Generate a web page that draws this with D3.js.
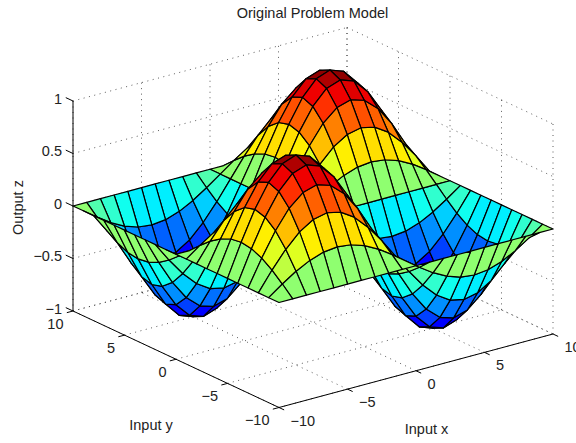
<!DOCTYPE html>
<html>
<head>
<meta charset="utf-8">
<style>
  html, body { margin: 0; padding: 0; background: #fff; }
  text { font-family: "Liberation Sans", Arial, sans-serif; fill: #222; }
</style>
<script src="https://cdn.jsdelivr.net/npm/d3@7"></script>
</head>
<body>
<div class="canvas"></div>
<script>
// tick labels and grid positions
const xTicks = [-10, -5, 0, 5, 10];
const yTicks = [-10, -5, 0, 5, 10];
const zTicks = [-1, -0.5, 0, 0.5, 1];
const xGrid = [-10,-9,-8,-7,-6,-5,-4,-3,-2,-1,0,1,2,3,4,5,6,7,8,9,10];
const yGrid = [-10,-9,-8,-7,-6,-5,-4,-3,-2,-1,0,1,2,3,4,5,6,7,8,9,10];

// surface heights, one row per y value
const zRows = [
  [0,0,0,0,0,0,0,0,0,0,0,0,0,0,0,0,0,0,0,0,0],
  [0,.095,.182,.25,.294,.309,.294,.25,.182,.095,0,-.095,-.182,-.25,-.294,-.309,-.294,-.25,-.182,-.095,0],
  [0,.182,.345,.476,.559,.588,.559,.476,.345,.182,0,-.182,-.345,-.476,-.559,-.588,-.559,-.476,-.345,-.182,0],
  [0,.25,.476,.655,.769,.809,.769,.655,.476,.25,0,-.25,-.476,-.655,-.769,-.809,-.769,-.655,-.476,-.25,0],
  [0,.294,.559,.769,.905,.951,.905,.769,.559,.294,0,-.294,-.559,-.769,-.905,-.951,-.905,-.769,-.559,-.294,0],
  [0,.309,.588,.809,.951,1,.951,.809,.588,.309,0,-.309,-.588,-.809,-.951,-1,-.951,-.809,-.588,-.309,0],
  [0,.294,.559,.769,.905,.951,.905,.769,.559,.294,0,-.294,-.559,-.769,-.905,-.951,-.905,-.769,-.559,-.294,0],
  [0,.25,.476,.655,.769,.809,.769,.655,.476,.25,0,-.25,-.476,-.655,-.769,-.809,-.769,-.655,-.476,-.25,0],
  [0,.182,.345,.476,.559,.588,.559,.476,.345,.182,0,-.182,-.345,-.476,-.559,-.588,-.559,-.476,-.345,-.182,0],
  [0,.095,.182,.25,.294,.309,.294,.25,.182,.095,0,-.095,-.182,-.25,-.294,-.309,-.294,-.25,-.182,-.095,0],
  [0,0,0,0,0,0,0,0,0,0,0,0,0,0,0,0,0,0,0,0,0],
  [0,-.095,-.182,-.25,-.294,-.309,-.294,-.25,-.182,-.095,0,.095,.182,.25,.294,.309,.294,.25,.182,.095,0],
  [0,-.182,-.345,-.476,-.559,-.588,-.559,-.476,-.345,-.182,0,.182,.345,.476,.559,.588,.559,.476,.345,.182,0],
  [0,-.25,-.476,-.655,-.769,-.809,-.769,-.655,-.476,-.25,0,.25,.476,.655,.769,.809,.769,.655,.476,.25,0],
  [0,-.294,-.559,-.769,-.905,-.951,-.905,-.769,-.559,-.294,0,.294,.559,.769,.905,.951,.905,.769,.559,.294,0],
  [0,-.309,-.588,-.809,-.951,-1,-.951,-.809,-.588,-.309,0,.309,.588,.809,.951,1,.951,.809,.588,.309,0],
  [0,-.294,-.559,-.769,-.905,-.951,-.905,-.769,-.559,-.294,0,.294,.559,.769,.905,.951,.905,.769,.559,.294,0],
  [0,-.25,-.476,-.655,-.769,-.809,-.769,-.655,-.476,-.25,0,.25,.476,.655,.769,.809,.769,.655,.476,.25,0],
  [0,-.182,-.345,-.476,-.559,-.588,-.559,-.476,-.345,-.182,0,.182,.345,.476,.559,.588,.559,.476,.345,.182,0],
  [0,-.095,-.182,-.25,-.294,-.309,-.294,-.25,-.182,-.095,0,.095,.182,.25,.294,.309,.294,.25,.182,.095,0],
  [0,0,0,0,0,0,0,0,0,0,0,0,0,0,0,0,0,0,0,0,0]
];

const svg = d3.select('.canvas')
    .append('svg')
    .attr('width', 576)
    .attr('height', 443)
    .style('display', 'block');

// 3d axes flattened to the page: each data axis gets its own screen scales
const front = {x: 279, y: 407.5}; // x=-10, y=-10, z=-1
const xToPx = d3.scaleLinear().domain([-10, 10]).range([0, 274]);
const xToPy = d3.scaleLinear().domain([-10, 10]).range([0, -73.5]);
const yToPx = d3.scaleLinear().domain([-10, 10]).range([0, -206]);
const yToPy = d3.scaleLinear().domain([-10, 10]).range([0, -96.5]);
const zToPy = d3.scaleLinear().domain([-1, 1]).range([0, -210]);

const project = (x, y, z) => [
    front.x + xToPx(x) + yToPx(y),
    front.y + xToPy(x) + yToPy(y) + zToPy(z)
];

const line3d = (a, b) => {
    const p = project(...a), q = project(...b);
    return `M${p[0]},${p[1]}L${q[0]},${q[1]}`;
};

// jet(64) colormap, ramps given in colormap index
const jetR = d3.scaleLinear().domain([24, 40, 56, 72]).range([0, 1, 1, 0]).clamp(true);
const jetG = d3.scaleLinear().domain([8, 24, 40, 56]).range([0, 1, 1, 0]).clamp(true);
const jetB = d3.scaleLinear().domain([-8, 8, 24, 40]).range([0, 1, 1, 0]).clamp(true);
const colorIndex = d3.scaleQuantize().domain([-1, 1]).range(d3.range(1, 65));
const jet = z => {
    const i = colorIndex(z);
    return d3.rgb(jetR(i) * 255, jetG(i) * 255, jetB(i) * 255).formatHex();
};

// back walls and floor, dotted grid
const gridLines = [];
zTicks.forEach(z => {
    gridLines.push(line3d([-10, 10, z], [10, 10, z]));
    gridLines.push(line3d([10, 10, z], [10, -10, z]));
});
xTicks.forEach(x => {
    gridLines.push(line3d([x, -10, -1], [x, 10, -1]));
    gridLines.push(line3d([x, 10, -1], [x, 10, 1]));
});
yTicks.forEach(y => {
    gridLines.push(line3d([-10, y, -1], [10, y, -1]));
    gridLines.push(line3d([10, y, -1], [10, y, 1]));
});

svg.append('g').selectAll('path')
    .data(gridLines)
    .enter()
    .append('path')
    .attr('d', d => d)
    .attr('fill', 'none')
    .attr('stroke', '#333')
    .attr('stroke-width', 0.8)
    .attr('stroke-dasharray', '1 4.5');

// solid axis lines
const axisLines = [
    line3d([-10, 10, -1], [-10, 10, 1]),
    line3d([-10, -10, -1], [-10, 10, -1]),
    line3d([-10, -10, -1], [10, -10, -1])
];
zTicks.forEach(z => axisLines.push(line3d([-10, 10, z], [-10, 10.7, z])));
yTicks.forEach(y => axisLines.push(line3d([-10, y, -1], [-10.45, y, -1])));
xTicks.forEach(x => axisLines.push(line3d([x, -10, -1], [x, -10.5, -1])));

svg.append('g').selectAll('path')
    .data(axisLines)
    .enter()
    .append('path')
    .attr('d', d => d)
    .attr('fill', 'none')
    .attr('stroke', '#000')
    .attr('stroke-width', 1);

// surface cells, flat colour from the low corner, far cells first
const cells = [];
for (let j = 0; j < yGrid.length - 1; j++) {
    for (let i = 0; i < xGrid.length - 1; i++) {
        const corners = [[i, j], [i + 1, j], [i + 1, j + 1], [i, j + 1]]
            .map(c => [xGrid[c[0]], yGrid[c[1]], zRows[c[1]][c[0]]]);
        const depth = d3.mean(corners, c => -0.527 * c[0] / 10 - 0.687 * c[1] / 10 + 0.5 * c[2]);
        cells.push({corners, depth, z: zRows[j][i]});
    }
}
cells.sort((a, b) => d3.ascending(a.depth, b.depth));

svg.append('g').selectAll('path')
    .data(cells)
    .enter()
    .append('path')
    .attr('d', d => 'M' + d.corners.map(c => project(...c).join(',')).join('L') + 'Z')
    .attr('fill', d => jet(d.z))
    .attr('stroke', '#000')
    .attr('stroke-width', 1.2)
    .attr('stroke-linejoin', 'round');

// tick labels
const fmt = v => String(v).replace('-', '\u2212');
const labels = svg.append('g').attr('font-size', 14.5);

labels.selectAll('.zt')
    .data(zTicks)
    .enter()
    .append('text')
    .attr('class', 'zt')
    .attr('text-anchor', 'end')
    .attr('x', d => project(-10, 10, d)[0] - 11)
    .attr('y', d => project(-10, 10, d)[1] + 2.5)
    .text(fmt);

labels.selectAll('.yt')
    .data(yTicks)
    .enter()
    .append('text')
    .attr('class', 'yt')
    .attr('text-anchor', 'end')
    .attr('x', d => project(-10, d, -1)[0] - 9.5)
    .attr('y', d => project(-10, d, -1)[1] + 17.5)
    .text(fmt);

labels.selectAll('.xt')
    .data(xTicks)
    .enter()
    .append('text')
    .attr('class', 'xt')
    .attr('text-anchor', 'start')
    .attr('x', d => project(d, -10, -1)[0] + 11.5)
    .attr('y', d => project(d, -10, -1)[1] + 18)
    .text(fmt);

// title and axis labels
labels.append('text')
    .attr('x', 312.5).attr('y', 18)
    .attr('text-anchor', 'middle')
    .text('Original Problem Model');

labels.append('text')
    .attr('x', 151).attr('y', 429.5)
    .attr('text-anchor', 'middle')
    .text('Input y');

labels.append('text')
    .attr('x', 426.5).attr('y', 434)
    .attr('text-anchor', 'middle')
    .text('Input x');

labels.append('text')
    .attr('transform', 'translate(22.5,207.5) rotate(-90)')
    .attr('text-anchor', 'middle')
    .text('Output z');
</script>
</body>
</html>
